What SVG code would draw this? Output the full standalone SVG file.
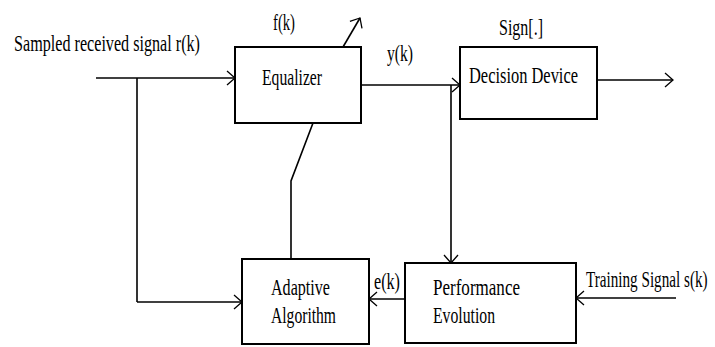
<svg xmlns="http://www.w3.org/2000/svg" width="715" height="347" viewBox="0 0 715 347">
<style>
  text { font-family: 'Liberation Serif', 'DejaVu Serif', 'Times New Roman', serif; font-size: 24px; fill: #000; }
  .box { fill: #fff; stroke: #000; stroke-width: 2; }
  .ln { fill: none; stroke: #000; stroke-width: 1.6; }
  .arr { marker-end: url(#ah); }
</style>
<defs>
  <marker id="ah" markerUnits="userSpaceOnUse" markerWidth="12" markerHeight="16" refX="9" refY="7" orient="auto" viewBox="0 0 12 14">
    <path d="M1,0 L9,7 L1,14" fill="none" stroke="#000" stroke-width="1.3"/>
  </marker>
</defs>
<rect width="715" height="347" fill="#fff"/>
<g id="connectors">
  <path class="ln arr" d="M96,78 H235"/>
  <path class="ln" d="M137,78 V302"/>
  <path class="ln arr" d="M137,302 H242"/>
  <path class="ln arr" d="M343,47 L360,18"/>
  <path class="ln arr" d="M361,85 H460"/>
  <path class="ln arr" d="M451,85 V263"/>
  <path class="ln arr" d="M597,80 H673"/>
  <path class="ln arr" d="M676,298 H576"/>
  <path class="ln arr" d="M405,299 H369"/>
  <path class="ln" d="M291,259 V181 L313,123"/>
</g>
<g id="label-input"><text x="14" y="51" textLength="186" lengthAdjust="spacingAndGlyphs">Sampled received signal r(k)</text></g>
<g id="label-fk"><text x="273" y="30" textLength="22" lengthAdjust="spacingAndGlyphs">f(k)</text></g>
<g id="label-yk"><text x="387" y="61" textLength="26" lengthAdjust="spacingAndGlyphs">y(k)</text></g>
<g id="label-sign"><text x="499" y="35" textLength="44" lengthAdjust="spacingAndGlyphs">Sign[.]</text></g>
<g id="label-ek"><text x="374" y="289" textLength="26" lengthAdjust="spacingAndGlyphs">e(k)</text></g>
<g id="label-training"><text transform="translate(586,287) scale(0.632,1)" x="0" y="0">Training Signal s(k)</text></g>
<g id="equalizer">
  <rect class="box" x="235" y="47" width="126" height="76"/>
  <text x="262" y="85" textLength="60" lengthAdjust="spacingAndGlyphs">Equalizer</text>
</g>
<g id="decision">
  <rect class="box" x="460" y="47" width="137" height="72"/>
  <text x="469" y="83" textLength="109" lengthAdjust="spacingAndGlyphs">Decision Device</text>
</g>
<g id="adaptive">
  <rect class="box" x="242" y="259" width="127" height="85"/>
  <text x="271" y="295" textLength="59" lengthAdjust="spacingAndGlyphs">Adaptive</text>
  <text x="271" y="323" textLength="65" lengthAdjust="spacingAndGlyphs">Algorithm</text>
</g>
<g id="performance">
  <rect class="box" x="405" y="263" width="171" height="80"/>
  <text x="433" y="295" textLength="87" lengthAdjust="spacingAndGlyphs">Performance</text>
  <text x="433" y="323" textLength="62" lengthAdjust="spacingAndGlyphs">Evolution</text>
</g>
</svg>
